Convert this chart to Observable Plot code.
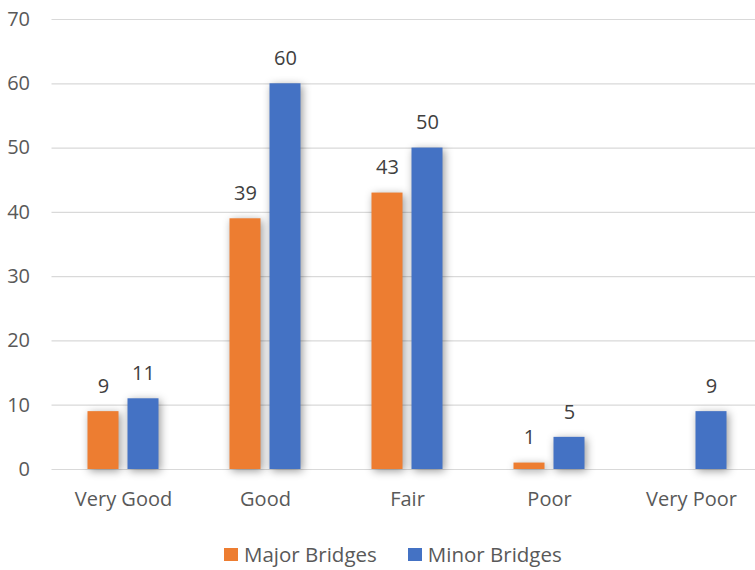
<!DOCTYPE html>
<html>
<head>
<meta charset="utf-8">
<script src="https://cdn.jsdelivr.net/npm/d3@7"></script>
<script src="https://cdn.jsdelivr.net/npm/@observablehq/plot@0.6"></script>
<style>
  html, body { margin: 0; padding: 0; background: #fff; }
  body { position: relative; width: 755px; height: 570px; overflow: hidden; font-family: "Open Sans", sans-serif; }
  .bar rect { filter: drop-shadow(2px 2px 4px rgba(0,0,0,0.4)); }
  #legend { position: absolute; left: 224px; top: 540px; display: flex; align-items: center; font-size: 20.5px; color: #595959; }
  #legend .item { display: flex; align-items: center; }
  #legend .swatch { width: 14px; height: 13px; margin-right: 6px; }
  #legend .item + .item { margin-left: 31px; }
</style>
</head>
<body>
<div id="chart"></div>
<div id="legend"></div>
<script>
// Bridge condition counts per rating
const categories = ["Very Good", "Good", "Fair", "Poor", "Very Poor"];
const majorBridges = [9, 39, 43, 1, null];
const minorBridges = [11, 60, 50, 5, 9];
const yTicks = [0, 10, 20, 30, 40, 50, 60, 70];
const seriesNames = ["Major Bridges", "Minor Bridges"];
const seriesColors = ["#ED7D31", "#4472C4"];

const rows = categories.map((c, i) => ({category: c, major: majorBridges[i], minor: minorBridges[i]}));

const barInset = 55.5;
const offset = 20;

const chart = Plot.plot({
  width: 755,
  height: 525,
  marginTop: 19,
  marginBottom: 56,
  marginLeft: 51.5,
  marginRight: 0,
  style: {fontFamily: "Open Sans, sans-serif", fontSize: "20px", color: "#595959"},
  x: {domain: categories, range: [51.5, 762.5], padding: 0, label: null},
  y: {domain: [0, 70], label: null},
  marks: [
    Plot.ruleY(yTicks, {stroke: "#d9d9d9", strokeWidth: 1.2}),
    Plot.barY(rows.filter(d => d.major != null), {
      x: "category", y: "major", fill: seriesColors[0], dx: -offset,
      insetLeft: barInset, insetRight: barInset, className: "bar"
    }),
    Plot.barY(rows, {
      x: "category", y: "minor", fill: seriesColors[1], dx: offset,
      insetLeft: barInset, insetRight: barInset, className: "bar"
    }),
    Plot.text(rows.filter(d => d.major != null), {
      x: "category", y: "major", text: d => String(d.major),
      dx: -offset, dy: -25, fontSize: 20, fill: "#404040"
    }),
    Plot.text(rows, {
      x: "category", y: "minor", text: d => String(d.minor),
      dx: offset, dy: -25, fontSize: 20, fill: "#404040"
    }),
    Plot.axisY({ticks: yTicks, tickSize: 0, tickPadding: 22, fontSize: 20, fill: "#595959", label: null}),
    Plot.axisX({tickSize: 0, tickPadding: 22, fontSize: 20, fill: "#595959", label: null})
  ]
});
document.getElementById("chart").appendChild(chart);

const legend = document.getElementById("legend");
seriesNames.forEach((name, i) => {
  const item = document.createElement("div");
  item.className = "item";
  const sw = document.createElement("span");
  sw.className = "swatch";
  sw.style.background = seriesColors[i];
  const label = document.createElement("span");
  label.textContent = name;
  item.appendChild(sw);
  item.appendChild(label);
  legend.appendChild(item);
});
</script>
</body>
</html>
